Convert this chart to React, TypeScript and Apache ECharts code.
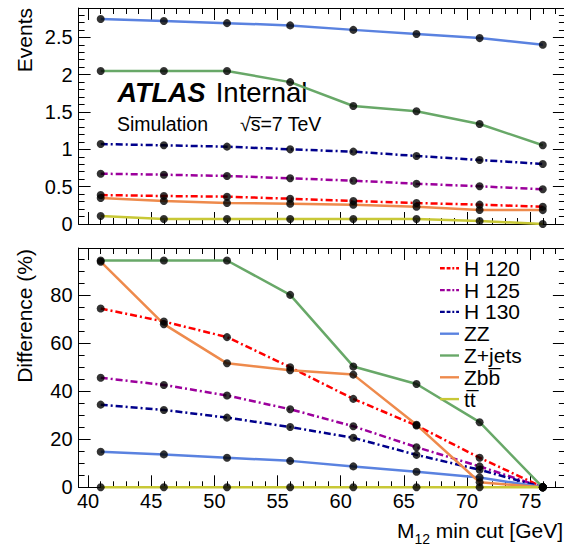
import React, { useEffect, useRef } from "react";
import * as echarts from "echarts";

const FONT = "'Liberation Sans', Arial, Helvetica, sans-serif";

// x values: M12 min cut [GeV]
const cuts = [41, 46, 51, 56, 61, 66, 71, 76];
const seriesNames = ["H 120", "H 125", "H 130", "ZZ", "Z+jets", "Zb" + "b\u0305", "t" + "t\u0305"];

// Top panel: Events
const evH120 = [0.388, 0.375, 0.366, 0.339, 0.308, 0.281, 0.259, 0.232];
const evH125 = [0.674, 0.66, 0.643, 0.612, 0.58, 0.54, 0.505, 0.465];
const evH130 = [1.071, 1.054, 1.036, 1.0, 0.969, 0.911, 0.857, 0.804];
const evZZ = [2.745, 2.72, 2.69, 2.66, 2.6, 2.545, 2.49, 2.4];
const evZjets = [2.05, 2.05, 2.05, 1.9, 1.58, 1.51, 1.34, 1.054];
const evZbb = [0.348, 0.308, 0.281, 0.272, 0.259, 0.232, 0.188, 0.186];
const evTT = [0.107, 0.067, 0.067, 0.067, 0.067, 0.067, 0.04, 0.0];

// Bottom panel: Difference (%)
const dfH120 = [74.4, 69.0, 62.5, 50.0, 36.8, 25.7, 12.3, 0];
const dfH125 = [45.6, 42.6, 38.2, 32.5, 25.4, 16.7, 8.7, 0];
const dfH130 = [34.4, 32.2, 29.0, 25.1, 20.6, 13.5, 7.3, 0];
const dfZZ = [14.8, 13.7, 12.3, 11.0, 8.7, 6.5, 4.1, 0];
const dfZjets = [94.4, 94.4, 94.4, 80.1, 50.3, 43.0, 27.1, 0];
const dfZbb = [93.9, 67.9, 51.6, 48.7, 46.9, 26.0, 2.1, 0];
const dfTT = [0, 0, 0, 0, 0, 0, 0, 0];

const xMajorTicks = [40, 45, 50, 55, 60, 65, 70, 75];
const xMinorTicks = [40, 41, 42, 43, 44, 45, 46, 47, 48, 49, 50, 51, 52, 53, 54, 55, 56, 57, 58, 59, 60, 61, 62, 63, 64, 65, 66, 67, 68, 69, 70, 71, 72, 73, 74, 75, 76, 77];

const topData = [evH120, evH125, evH130, evZZ, evZjets, evZbb, evTT];
const botData = [dfH120, dfH125, dfH130, dfZZ, dfZjets, dfZbb, dfTT];

const colors = ["#ff0000", "#9c009c", "#00008c", "#5a82e0", "#68a868", "#ee8a4c", "#c8c836"];
const dashDot = [7, 3, 2, 3];
const lineTypes: any[] = [dashDot, dashDot, dashDot, "solid", "solid", "solid", "solid"];
const DASH_ICON = "path://M0,0h5v2.5h-5z M7,0h4v2.5h-4z M13,0h2v2.5h-2z M17,0h3v2.5h-3z";
const SOLID_ICON = "path://M0,0h20v2.5h-20z";
const legendIcons = [DASH_ICON, DASH_ICON, DASH_ICON, SOLID_ICON, SOLID_ICON, SOLID_ICON, SOLID_ICON];

function xAxes(gridIndex: number, majorLen: number, minorLen: number, showLabels: boolean) {
  const base = {
    gridIndex,
    type: "value",
    min: 39.25,
    max: 77.75,
    splitLine: { show: false },
  };
  const mk = (position: string, ticks: number[], len: number, labels: boolean, line: boolean) => ({
    ...base,
    position,
    axisLine: { show: line, onZero: false, lineStyle: { color: "#000", width: 1 } },
    axisTick: { show: true, inside: true, length: len, customValues: ticks, lineStyle: { color: "#000", width: 1 } },
    axisLabel: labels
      ? { show: true, customValues: xMajorTicks, color: "#000", fontSize: 20, fontFamily: FONT, margin: 4 }
      : { show: false },
  });
  return [
    mk("bottom", xMajorTicks, majorLen, showLabels, true),
    mk("bottom", xMinorTicks, minorLen, false, false),
    mk("top", xMajorTicks, majorLen, false, true),
    mk("top", xMinorTicks, minorLen, false, false),
  ];
}

function yAxes(gridIndex: number, max: number, interval: number, split: number) {
  const mk = (position: string, labels: boolean) => ({
    gridIndex,
    type: "value",
    position,
    min: 0,
    max,
    interval,
    splitLine: { show: false },
    minorSplitLine: { show: false },
    axisLine: { show: true, onZero: false, lineStyle: { color: "#000", width: 1 } },
    axisTick: { show: true, inside: true, length: 12, lineStyle: { color: "#000", width: 1 } },
    minorTick: { show: true, splitNumber: split, length: 6, lineStyle: { color: "#000", width: 1 } },
    axisLabel: labels
      ? { show: true, color: "#000", fontSize: 20, fontFamily: FONT, margin: 6, showMaxLabel: false }
      : { show: false },
  });
  return [mk("left", true), mk("right", false)];
}

export default function App() {
  const ref = useRef<HTMLDivElement>(null);
  useEffect(() => {
    if (!ref.current) return;
    const chart = echarts.init(ref.current, undefined, { renderer: "svg" });

    const series: any[] = [];
    [topData, botData].forEach((panel, p) => {
      panel.forEach((vals, i) => {
        series.push({
          type: "line",
          name: seriesNames[i],
          xAxisIndex: p * 4,
          yAxisIndex: p * 2,
          data: cuts.map((c, k) => [c, vals[k]]),
          symbol: "none",
          clip: false,
          lineStyle: { color: colors[i], width: 2.5, type: lineTypes[i] },
          itemStyle: { color: colors[i] },
          z: 2 + (i === 6 ? 1 : 0),
        });
      });
      const pts: number[][] = [];
      panel.forEach((vals) => cuts.forEach((c, k) => pts.push([c, vals[k]])));
      series.push({
        type: "scatter",
        xAxisIndex: p * 4,
        yAxisIndex: p * 2,
        data: pts,
        symbol: "circle",
        symbolSize: 8,
        clip: false,
        silent: true,
        itemStyle: { color: "#000" },
        z: 10,
      });
    });

    const option: any = {
      animation: false,
      textStyle: { fontFamily: FONT },
      grid: [
        { left: 78.6, top: 8, width: 486.3, height: 216, containLabel: false },
        { left: 78.6, top: 248, width: 486.3, height: 239.3, containLabel: false },
      ],
      xAxis: [...xAxes(0, 12, 6, false), ...xAxes(1, 12, 6, true)],
      yAxis: [...yAxes(0, 2.893, 0.5, 5), ...yAxes(1, 99.6, 20, 4)],
      legend: {
        orient: "vertical",
        left: 440,
        top: 257.4,
        padding: 0,
        itemWidth: 19,
        itemHeight: 2.5,
        itemGap: 0,
        selectedMode: false,
        data: seriesNames.map((n, i) => ({
          name: n,
          icon: legendIcons[i],
          itemStyle: { color: colors[i], borderWidth: 0 },
        })),
        textStyle: { fontSize: 21, lineHeight: 21.8, color: "#000", fontFamily: FONT },
      },
      series,
      graphic: [
        {
          type: "text",
          x: 24.5,
          y: 8,
          rotation: Math.PI / 2,
          style: { text: "Events", fontSize: 21, fontFamily: FONT, fill: "#000", align: "right", verticalAlign: "middle" },
        },
        {
          type: "text",
          x: 24.5,
          y: 249,
          rotation: Math.PI / 2,
          style: { text: "Difference (%)", fontSize: 21, fontFamily: FONT, fill: "#000", align: "right", verticalAlign: "middle" },
        },
        {
          type: "text",
          x: 563,
          y: 520,
          style: {
            text: "{m|M}{s|12}{m| min cut [GeV]}",
            align: "right",
            verticalAlign: "top",
            fill: "#000",
            rich: {
              m: { fontSize: 21, verticalAlign: "top", fontFamily: FONT, fill: "#000" },
              s: { fontSize: 14, verticalAlign: "top", padding: [12, 0, 0, 0], fontFamily: FONT, fill: "#000" },
            },
          },
        },
        {
          type: "text",
          x: 117.5,
          y: 92.5,
          style: { text: "ATLAS", fontSize: 27, fontWeight: "bold", fontStyle: "italic", fontFamily: FONT, fill: "#000", verticalAlign: "middle" },
        },
        {
          type: "text",
          x: 215.7,
          y: 92.5,
          style: { text: "Internal", fontSize: 27.5, fontFamily: FONT, fill: "#000", verticalAlign: "middle" },
        },
        {
          type: "text",
          x: 117,
          y: 124,
          style: { text: "Simulation", fontSize: 19.5, fontFamily: FONT, fill: "#000", verticalAlign: "middle" },
        },
        {
          type: "text",
          x: 240,
          y: 124,
          style: { text: "\u221As\u0305=7 TeV", fontSize: 19.5, fontFamily: FONT, fill: "#000", verticalAlign: "middle" },
        },
      ],
    };
    chart.setOption(option);
    return () => chart.dispose();
  }, []);
  return (
    <div style={{ position: "absolute", left: 0, top: 0, width: 564, height: 556, overflow: "hidden", background: "#fff" }}>
      <div ref={ref} style={{ width: 572, height: 556 }} />
    </div>
  );
}
